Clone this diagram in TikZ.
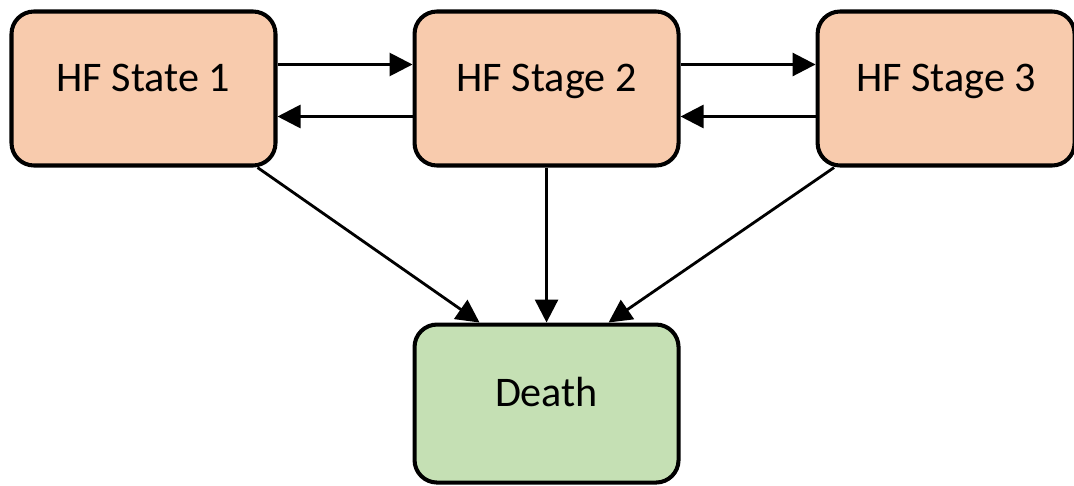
\documentclass[tikz,border=0pt]{standalone}
\usepackage{fontspec}
\setmainfont{Carlito}
\usetikzlibrary{positioning,arrows.meta}
\definecolor{stagefill}{HTML}{F8CBAD}
\definecolor{deathfill}{HTML}{C5E0B4}
\tikzstyle{arrow} = [line width=1.6pt,-{Triangle[length=0.46cm,width=0.46cm]}]
\tikzstyle{hfbox} = [rectangle, draw, rounded corners=0.45cm, line width=2.3pt, fill=stagefill, minimum width=5.28cm, minimum height=3.08cm, font=\fontsize{24}{28}\selectfont, text height=0.6cm, text depth=0.48cm]

\begin{document}
\begin{tikzpicture}
        \useasboundingbox (0,0) rectangle (21.48,-9.7);
        \node (hf1) [hfbox] at (2.87,-1.77) {HF State 1};
        \node (hf2) [hfbox, right=2.7cm of hf1] {HF Stage 2};
        \node (hf3) [hfbox, right=2.7cm of hf2, minimum width=5.14cm] {HF Stage 3};
        \node (death) [hfbox, below=3.1cm of hf2, fill=deathfill, minimum height=3.16cm] {Death};
        
        \draw [arrow] ([yshift=0.48cm]hf1.east) -- ([yshift=0.48cm]hf2.west);
        \draw [arrow] ([yshift=-0.56cm]hf2.west) -- ([yshift=-0.56cm]hf1.east);
        \draw [arrow] ([yshift=0.48cm]hf2.east) -- ([yshift=0.48cm]hf3.west);
        \draw [arrow] ([yshift=-0.56cm]hf3.west) -- ([yshift=-0.56cm]hf2.east);
        
        \draw [arrow] ([xshift=-0.4cm]hf1.south east) -- ([xshift=-1.34cm]death.north);
        \draw [arrow] (hf2.south) -- (death.north);
        \draw [arrow] ([xshift=0.37cm]hf3.south west) -- ([xshift=1.24cm]death.north);
        
    \end{tikzpicture}
\end{document}
